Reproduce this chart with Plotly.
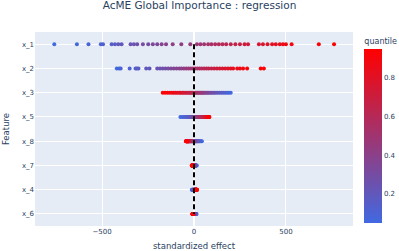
import plotly.graph_objects as go

quantiles = [0.05, 0.07, 0.09, 0.11, 0.13, 0.15, 0.17, 0.19, 0.21, 0.23, 0.25, 0.27, 0.29, 0.31,
             0.33, 0.35, 0.37, 0.39, 0.41, 0.43, 0.45, 0.47, 0.49, 0.51, 0.53, 0.55, 0.57, 0.59,
             0.61, 0.63, 0.65, 0.67, 0.69, 0.71, 0.73, 0.75, 0.77, 0.79, 0.81, 0.83, 0.85, 0.87,
             0.89, 0.91, 0.93, 0.95]

features = ["x_1", "x_2", "x_3", "x_5", "x_8", "x_7", "x_4", "x_6"]

effect_x_1 = [-760, -637, -574, -507, -495, -448, -430, -412, -394, -345, -327, -309, -278, -249,
              -224, -200, -176, -152, -116, -69, -20, 16, 35, 55, 77, 95, 115, 135, 155, 175, 200,
              225, 250, 275, 294, 353, 375, 400, 425, 445, 467, 484, 500, 531, 679, 762]
effect_x_2 = [-420, -408, -399, -350, -318, -310, -302, -260, -242, -200, -185, -170, -155, -140,
              -125, -110, -95, -80, -68, -55, -42, -30, -18, -6, 6, 18, 30, 42, 55, 68, 80, 95,
              110, 125, 140, 155, 170, 185, 200, 213, 235, 250, 267, 289, 363, 380]
effect_x_3 = [200, 190, 180, 170, 160, 150, 140, 130, 120, 112, 104, 96, 88, 81, 74, 67, 60, 54,
              48, 42, 36, 30, 24, 18, 12, 6, 0, -6, -12, -18, -25, -32, -40, -48, -56, -64, -72,
              -80, -90, -100, -110, -120, -132, -144, -157, -170]
effect_x_5 = [-74, -64, -55, -47, -40, -34, -28, -23, -18, -14, -10, -6, -3, 0, 3, 6, 9, 12, 15,
              18, 21, 24, 27, 30, 33, 36, 39, 42, 45, 48, 51, 54, 57, 60, 62, 64, 66, 68, 70, 72,
              74, 76, 78, 80, 82, 84]
effect_x_8 = [43, 38, 33, 29, 25, 22, 19, 16, 13, 11, 9, 7, 5, 3, 1, -1, -3, -5, -7, -9, -11, -13,
              -15, -17, -19, -21, -23, -25, -27, -28, -29, -30, -31, -32, -33, -34, -35, -36, -37,
              -38, -39, -40, -41, -42, -43, -44]
effect_x_7 = [15, 13, 11, 10, 9, 8, 7, 6, 5, 4.5, 4, 3.5, 3, 2.5, 2, 1.5, 1, 0.5, 0, -0.5, -1,
              -1.5, -2, -2.5, -3, -3.5, -4, -4.5, -5, -5.5, -6, -6.5, -7, -7.5, -8, -8.5, -9, -9,
              -9.5, -10, -10, -10.5, -11, -11, -11.5, -12]
effect_x_4 = [-12, -10, -8, -6.5, -5, -4, -3, -2, -1, 0, 0.5, 1, 1.5, 2, 2.5, 3, 3.5, 4, 4.5, 5,
              5.5, 6, 6.5, 7, 7.5, 8, 8.5, 9, 9.5, 10, 10.5, 11, 11, 11.5, 12, 12, 12.5, 13, 13,
              13.5, 14, 14, 14.5, 15, 15.5, 16]
effect_x_6 = [14, 12, 10, 9, 8, 7, 6, 5.5, 5, 4.5, 4, 3.5, 3, 2.5, 2, 1.5, 1, 0.5, 0, -0.5, -1,
              -1.5, -2, -2.5, -3, -3, -3.5, -4, -4, -4.5, -5, -5, -5.5, -5.5, -6, -6, -6.5, -6.5,
              -7, -7, -7, -7.5, -7.5, -8, -8, -8.5]

effects = {
    "x_1": effect_x_1, "x_2": effect_x_2, "x_3": effect_x_3, "x_5": effect_x_5,
    "x_8": effect_x_8, "x_7": effect_x_7, "x_4": effect_x_4, "x_6": effect_x_6,
}

xs, ys, cs = [], [], []
for f in features:
    for q, v in zip(quantiles, effects[f]):
        xs.append(v)
        ys.append(f)
        cs.append(q)

FONT = "DejaVu Sans"

fig = go.Figure()
fig.add_trace(go.Scatter(
    x=xs, y=ys, mode="markers",
    marker=dict(size=4, color=cs, colorscale=[[0, "royalblue"], [1, "red"]],
                showscale=True,
                colorbar=dict(title=dict(text="quantile", side="top", font=dict(size=8)),
                              thickness=18, x=1.02, xpad=5, ypad=3, len=1,
                              tickvals=[0.2, 0.4, 0.6, 0.8],
                              tickfont=dict(size=7), outlinewidth=0)),
    showlegend=False,
))
fig.add_trace(go.Scatter(
    x=[0, 0], y=[features[0], features[-1]], mode="lines",
    line=dict(color="black", width=2, dash="5px,3px"),
    showlegend=False,
))

fig.update_layout(
    width=399, height=251,
    template="plotly",
    font=dict(family=FONT, size=7, color="#2a3f5f"),
    title=dict(text="AcME Global Importance : regression", x=0.5, xanchor="center",
               y=0.992, yanchor="top", pad=dict(t=0, b=0), font=dict(size=10.5)),
    margin=dict(l=35, r=46, t=32, b=25, autoexpand=False),
    xaxis=dict(range=[-865, 865], tickvals=[-500, 0, 500], automargin=False,
               title=dict(text="standardized effect", font=dict(size=8.5), standoff=10),
               tickfont=dict(size=7)),
    yaxis=dict(categoryorder="array", categoryarray=features[::-1],
               range=[-0.5, 7.5], automargin=False,
               title=dict(text="Feature", font=dict(size=8.5), standoff=10),
               tickfont=dict(size=7)),
)

fig.write_html("out.html", config={"displayModeBar": False},
               post_script="document.body.style.margin='0';document.body.style.overflow='hidden';")
